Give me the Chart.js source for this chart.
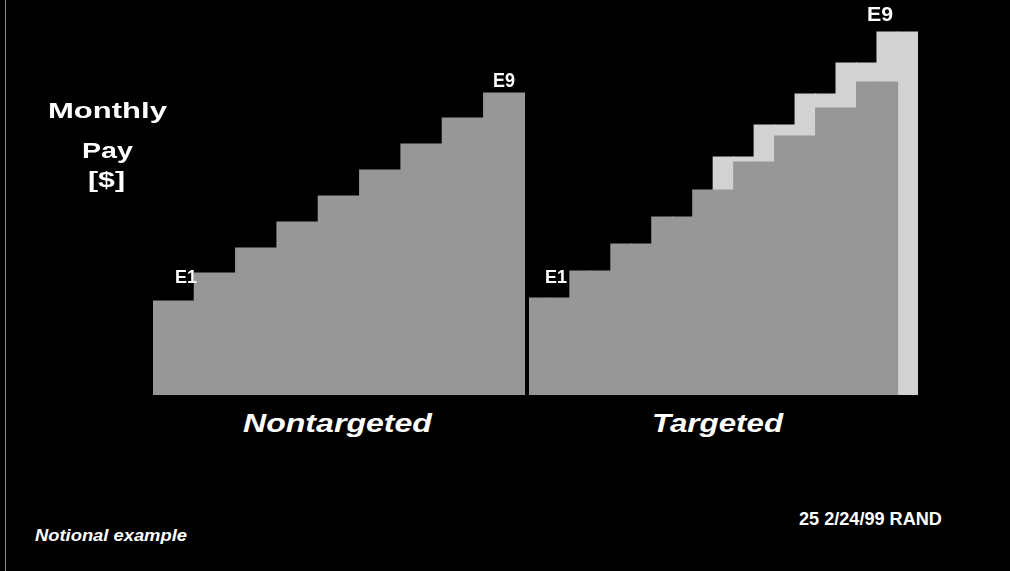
<!DOCTYPE html>
<html>
<head>
<meta charset="utf-8">
<script src="https://cdn.jsdelivr.net/npm/chart.js@4.4.1/dist/chart.umd.min.js"></script>
<style>
    html, body {
        margin: 0;
        padding: 0;
        width: 1010px;
        height: 571px;
        background: #000;
        overflow: hidden;
        font-family: "Liberation Sans", Arial, sans-serif;
    }
    .edge {
        position: absolute;
        left: 5px;
        top: 0;
        width: 1px;
        height: 571px;
        background: #8a8a8a;
    }
    .panel {
        position: absolute;
        top: 0;
        height: 395px;
    }
    .lbl {
        position: absolute;
        color: #fff;
        font-weight: bold;
        line-height: 1;
        white-space: nowrap;
        transform-origin: left top;
    }
    .it { font-style: italic; }
</style>
</head>
<body>
<div class="edge"></div>

<div class="panel" style="left:153px; width:372px;"><canvas id="nonChart"></canvas></div>
<div class="panel" style="left:529px; width:389px;"><canvas id="tgtChart"></canvas></div>

<!-- axis title -->
<span class="lbl" data-w="119" style="left:48px; top:100px; font-size:22px;">Monthly</span>
<span class="lbl" data-w="51" style="left:82px; top:140px; font-size:22px;">Pay</span>
<span class="lbl" data-w="37" style="left:88px; top:169px; font-size:22px;">[$]</span>

<!-- grade labels -->
<span class="lbl" data-w="22" style="left:175px; top:267px; font-size:19px;">E1</span>
<span class="lbl" data-w="22" style="left:493px; top:70px; font-size:20px;">E9</span>
<span class="lbl" data-w="22" style="left:545px; top:267px; font-size:19px;">E1</span>
<span class="lbl" data-w="26" style="left:867px; top:4px; font-size:20px;">E9</span>

<!-- panel titles -->
<span class="lbl it" data-w="189" style="left:243px; top:410px; font-size:26px;">Nontargeted</span>
<span class="lbl it" data-w="131" style="left:652px; top:410px; font-size:26px;">Targeted</span>

<!-- footers -->
<span class="lbl it" data-w="152" style="left:35px; top:528px; font-size:16px;">Notional example</span>
<span class="lbl" data-w="143" style="left:799px; top:510px; font-size:18px;">25 2/24/99 RAND</span>

<script>
// Colours
const colors = {
    bar: '#979797',
    extra: '#d2d2d2'
};

// Pay grades
const grades = ['E1', 'E2', 'E3', 'E4', 'E5', 'E6', 'E7', 'E8', 'E9'];

// Notional monthly pay (same units on both panels)
const nontargetedPay = [94, 122, 147, 173, 199, 225, 251, 277, 302];
const targetedBasePay = [97, 124, 151, 178, 205, 233, 259, 287, 313];

// Targeted panel is drawn on half-grade steps (two per grade plus one at the end)
const halfSteps = ['E1', 'E1+', 'E2', 'E2+', 'E3', 'E3+', 'E4', 'E4+', 'E5', 'E5+',
                   'E6', 'E6+', 'E7', 'E7+', 'E8', 'E8+', 'E9', 'E9+', 'E9++'];
// Pay including the targeted extra, per half step
const targetedExtraPay = [null, null, null, null, null, null, null, null, null,
                          238, 238, 270, 270, 301, 301, 332, 332, 363, 363];

const payMax = 395;

// Base pay spread over half steps
const basePayHalf = halfSteps.map((h, i) => i < grades.length * 2 ? targetedBasePay[Math.floor(i / 2)] : null);

function baseOptions() {
    return {
        responsive: true,
        maintainAspectRatio: false,
        animation: false,
        layout: { padding: 0 },
        scales: {
            x: { display: false, grid: { display: false } },
            y: { display: false, min: 0, max: payMax, grid: { display: false } }
        },
        plugins: {
            legend: { display: false },
            tooltip: { enabled: false }
        }
    };
}

new Chart(document.getElementById('nonChart'), {
    type: 'bar',
    data: {
        labels: grades,
        datasets: [{
            data: nontargetedPay,
            backgroundColor: colors.bar,
            borderWidth: 0,
            inflateAmount: 0.6,
            barPercentage: 1,
            categoryPercentage: 1
        }]
    },
    options: baseOptions()
});

new Chart(document.getElementById('tgtChart'), {
    type: 'bar',
    data: {
        labels: halfSteps,
        datasets: [{
            label: 'Base pay',
            data: basePayHalf,
            backgroundColor: colors.bar,
            borderWidth: 0,
            inflateAmount: 0.6,
            barPercentage: 1,
            categoryPercentage: 1,
            grouped: false,
            order: 0
        }, {
            label: 'With targeted pay',
            data: targetedExtraPay,
            backgroundColor: colors.extra,
            borderWidth: 0,
            inflateAmount: 0.6,
            barPercentage: 1,
            categoryPercentage: 1,
            grouped: false,
            order: 1
        }]
    },
    options: baseOptions()
});

// The original lettering is stretched sideways; match the measured widths
document.querySelectorAll('.lbl').forEach(el => {
    const target = parseFloat(el.dataset.w);
    const w = el.getBoundingClientRect().width;
    if (w > 0) el.style.transform = `scaleX(${(target / w).toFixed(3)})`;
});
</script>
</body>
</html>
